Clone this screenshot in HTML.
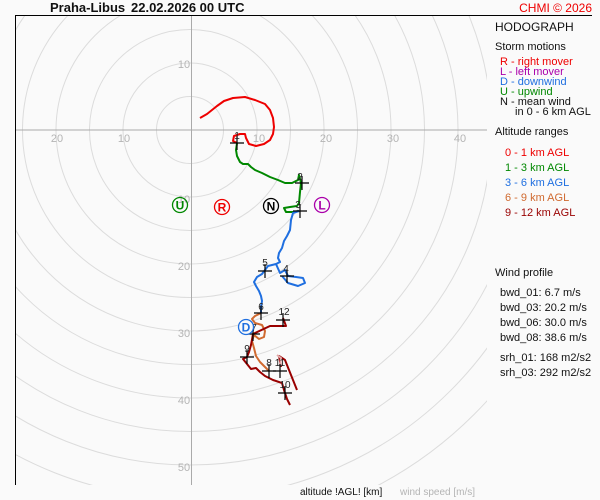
<!DOCTYPE html>
<html><head><meta charset="utf-8"><style>
html,body{margin:0;padding:0;background:#fafafa;width:600px;height:500px;overflow:hidden;}
svg{display:block;font-family:"Liberation Sans",sans-serif;}
</style></head><body>
<svg width="600" height="500" viewBox="0 0 600 500" xmlns="http://www.w3.org/2000/svg">
<rect width="600" height="500" fill="#fafafa"/>
<defs><clipPath id="c"><rect x="15" y="15" width="472" height="470"/></clipPath></defs>
<g clip-path="url(#c)" fill="none" stroke="#dcdcdc" stroke-width="1">
<circle cx="190" cy="130" r="33.5"/><circle cx="190" cy="130" r="67"/><circle cx="190" cy="130" r="100.5"/>
<circle cx="190" cy="130" r="134"/><circle cx="190" cy="130" r="167.5"/><circle cx="190" cy="130" r="201"/>
<circle cx="190" cy="130" r="234.5"/><circle cx="190" cy="130" r="268"/><circle cx="190" cy="130" r="301.5"/>
<circle cx="190" cy="130" r="335"/><circle cx="190" cy="130" r="368.5"/><circle cx="190" cy="130" r="402"/>
</g>
<line x1="15" y1="130" x2="487" y2="130" stroke="#aaa"/>
<line x1="191.5" y1="15" x2="191.5" y2="485" stroke="#aaa"/>
<line x1="15" y1="15.5" x2="592" y2="15.5" stroke="#000"/>
<line x1="15.5" y1="15" x2="15.5" y2="485" stroke="#000"/>
<g font-size="11" fill="#b4b4b4" text-anchor="middle">
<text x="57" y="142">20</text><text x="124" y="142">10</text><text x="259" y="142">10</text><text x="326" y="142">20</text><text x="393" y="142">30</text><text x="460" y="142">40</text>
<text x="184" y="68">10</text><text x="184" y="203">10</text><text x="184" y="270">20</text><text x="184" y="337">30</text><text x="184" y="404">40</text><text x="184" y="471">50</text>
</g>
<g fill="none" stroke-width="2" stroke-linejoin="round">
<polyline stroke="#ee0000" points="200,118 207,114 212,110 217,106 224,101 233,98 245,97 255,100 265,104 270,110 273,118 274,127 273,134 270,140 264,144 256,146 249,144 246,138 245,134 240,134 234,136 233,141 237,143"/>
<polyline stroke="#008800" points="237,143 236,150 237,156 240,162 243,164 248,164 251,167 255,170 262,173 270,177 278,180 285,183 292,183 298,180 299,175 301,183 300,192 299,203 297,206 290,207 284,208 286,212 293,212 299,211"/>
<polyline stroke="#1f6fe0" points="299,211 293,213 291,220 290,230 287,236 284,241 282,248 279,253 278,258 280,262 276,264 268,266 265,270 262,274 257,277 254,282 256,286 259,291 261,296 262,301 261,307 261,313"/>
<polyline stroke="#1f6fe0" points="276,264 280,273 285,270 288,276 296,277 303,278 305,283 298,286 288,283 282,276"/>
<polyline stroke="#d06a30" points="261,313 255,316 252,319 255,323 262,325 265,331 264,337 259,339 254,335 252,341 254,348 256,356 260,362 264,366 269,371"/>
<polyline stroke="#990000" points="283,318 286,326 270,326 253,334 251,345 249,352 247,357 243,359 247,364 251,369 256,368 260,372 265,376 273,380 282,383 284,390 287,399 290,405"/>
<polyline stroke="#990000" points="297,390 291,375 285,360 279,356 281,367"/>
<polyline stroke="#e0a8a8" points="277,355 281,358 280,366"/>
</g>
<g stroke="#000" stroke-width="1.2">
<path d="M230,143h14M237,136v14"/><path d="M295,183h14M302,176v14"/><path d="M293,211h14M300,204v14"/>
<path d="M280,276h14M287,269v14"/><path d="M258,271h14M265,264v14"/><path d="M254,313h14M261,306v14"/>
<path d="M246,334h14M253,327v14"/><path d="M262,371h14M269,364v14"/><path d="M240,357h14M247,350v14"/>
<path d="M278,393h14M285,386v14"/><path d="M273,371h14M280,364v14"/><path d="M276,320h14M283,313v14"/>
</g>
<g font-size="10" fill="#222" text-anchor="middle">
<text x="237" y="139">1</text><text x="300" y="180">2</text><text x="298" y="208">3</text><text x="286" y="272">4</text>
<text x="265" y="266">5</text><text x="261" y="310">6</text><text x="254" y="331">7</text><text x="269" y="366">8</text>
<text x="247" y="352">9</text><text x="285" y="388">10</text><text x="280" y="366">11</text><text x="284" y="315">12</text>
</g>
<g font-size="12" font-weight="bold" text-anchor="middle" stroke-width="1.3" fill="none">
<circle cx="180" cy="205" r="7.5" stroke="#008800"/><text x="180" y="209.5" fill="#008800" stroke="none">U</text>
<circle cx="222" cy="207" r="7.5" stroke="#ee0000"/><text x="222" y="211.5" fill="#ee0000" stroke="none">R</text>
<circle cx="271" cy="206" r="7.5" stroke="#000"/><text x="271" y="210.5" fill="#000" stroke="none">N</text>
<circle cx="322" cy="205" r="7.5" stroke="#aa00aa"/><text x="322" y="209.5" fill="#aa00aa" stroke="none">L</text>
<circle cx="246" cy="327" r="7.5" stroke="#1f6fe0" fill="#fafafa"/><text x="246" y="331.5" fill="#1f6fe0" stroke="none">D</text>
</g>
<text x="50" y="12" font-size="13" font-weight="bold" fill="#111">Praha-Libus</text>
<text x="131" y="12" font-size="13" font-weight="bold" fill="#111">22.02.2026 00 UTC</text>
<text x="592" y="12" font-size="12" fill="#ee0000" text-anchor="end">CHMI © 2026</text>
<g font-size="11" fill="#111">
<text x="495" y="31" font-size="12">HODOGRAPH</text>
<text x="495" y="50">Storm motions</text>
<text x="500" y="65" fill="#ee0000">R - right mover</text>
<text x="500" y="75" fill="#aa00aa">L - left mover</text>
<text x="500" y="85" fill="#1f6fe0">D - downwind</text>
<text x="500" y="95" fill="#008800">U - upwind</text>
<text x="500" y="105">N - mean wind</text>
<text x="515" y="115">in 0 - 6 km AGL</text>
<text x="495" y="135">Altitude ranges</text>
<text x="505" y="156" fill="#ee0000">0 - 1 km AGL</text>
<text x="505" y="171" fill="#008800">1 - 3 km AGL</text>
<text x="505" y="186" fill="#1f6fe0">3 - 6 km AGL</text>
<text x="505" y="201" fill="#d06a30">6 - 9 km AGL</text>
<text x="505" y="216" fill="#990000">9 - 12 km AGL</text>
<text x="495" y="276">Wind profile</text>
<text x="500" y="296">bwd_01: 6.7 m/s</text>
<text x="500" y="311">bwd_03: 20.2 m/s</text>
<text x="500" y="326">bwd_06: 30.0 m/s</text>
<text x="500" y="341">bwd_08: 38.6 m/s</text>
<text x="500" y="361">srh_01: 168 m2/s2</text>
<text x="500" y="376">srh_03: 292 m2/s2</text>
<text x="300" y="495" font-size="10">altitude !AGL! [km]</text>
<text x="400" y="495" font-size="10" fill="#b4b4b4">wind speed [m/s]</text>
</g>
</svg>
</body></html>
